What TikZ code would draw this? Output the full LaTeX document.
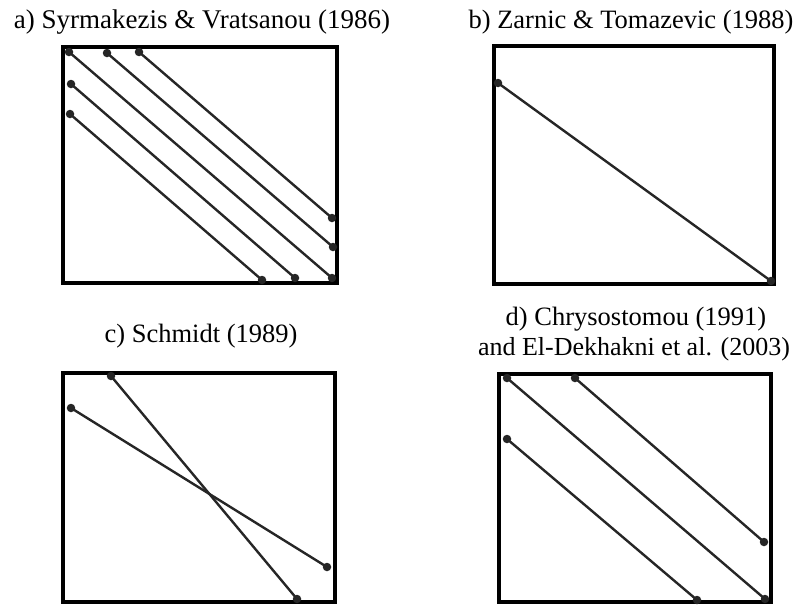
\documentclass[tikz,border=0pt]{standalone}
\usepackage{fontspec}
\setmainfont{Liberation Serif}
\begin{document}
\begin{tikzpicture}[x=1pt,y=-1pt,
  frame/.style={draw=black,line width=3.2pt},
  ln/.style={draw=black!85,line width=2.4pt},
  dot/.style={circle,fill=black!85,inner sep=0pt,minimum size=8.5pt},
  ttl/.style={anchor=base,inner sep=0pt,font=\fontsize{26.5}{31}\selectfont}]
\useasboundingbox (0,0) rectangle (801,605);
% titles
\node[ttl,font=\fontsize{27}{31}\selectfont] (ta) at (202,28) {a) Syrmakezis \& Vratsanou (1986)};
\node[ttl] (tb) at (631,28) {b) Zarnic \& Tomazevic (1988)};
\node[ttl] (tc) at (201,342) {c) Schmidt (1989)};
\node[ttl] (td1) at (636,325) {d) Chrysostomou (1991)};
\node[ttl,font=\fontsize{26}{31}\selectfont] (td2) at (634,355) {and El-Dekhakni et al. (2003)};
% frames
\draw[frame] (63,47) rectangle (337,283);
\draw[frame] (494,46) rectangle (774,284);
\draw[frame] (63,373) rectangle (335,602);
\draw[frame] (499,374) rectangle (771,602);
% panel a
\node[dot] (a1) at (69,52) {};
\node[dot] (a2) at (107,53) {};
\node[dot] (a3) at (139,52) {};
\node[dot] (a4) at (71,84) {};
\node[dot] (a5) at (70,114) {};
\node[dot] (a6) at (332,218) {};
\node[dot] (a7) at (333,247) {};
\node[dot] (a8) at (332,278) {};
\node[dot] (a9) at (295,278) {};
\node[dot] (a10) at (262,280) {};
\draw[ln] (a1.center) -- (a8.center);
\draw[ln] (a2.center) -- (a7.center);
\draw[ln] (a3.center) -- (a6.center);
\draw[ln] (a4.center) -- (a9.center);
\draw[ln] (a5.center) -- (a10.center);
% panel b
\node[dot] (b1) at (498,83) {};
\node[dot] (b2) at (771,281) {};
\draw[ln] (b1.center) -- (b2.center);
% panel c
\node[dot] (c1) at (111,376) {};
\node[dot] (c2) at (71,408) {};
\node[dot] (c3) at (327,567) {};
\node[dot] (c4) at (297,599) {};
\draw[ln] (c1.center) -- (c4.center);
\draw[ln] (c2.center) -- (c3.center);
% panel d
\node[dot] (d1) at (507,378) {};
\node[dot] (d2) at (575,378) {};
\node[dot] (d3) at (507,439) {};
\node[dot] (d4) at (764,542) {};
\node[dot] (d5) at (765,599) {};
\node[dot] (d6) at (697,600) {};
\draw[ln] (d1.center) -- (d5.center);
\draw[ln] (d2.center) -- (d4.center);
\draw[ln] (d3.center) -- (d6.center);
\end{tikzpicture}
\end{document}
